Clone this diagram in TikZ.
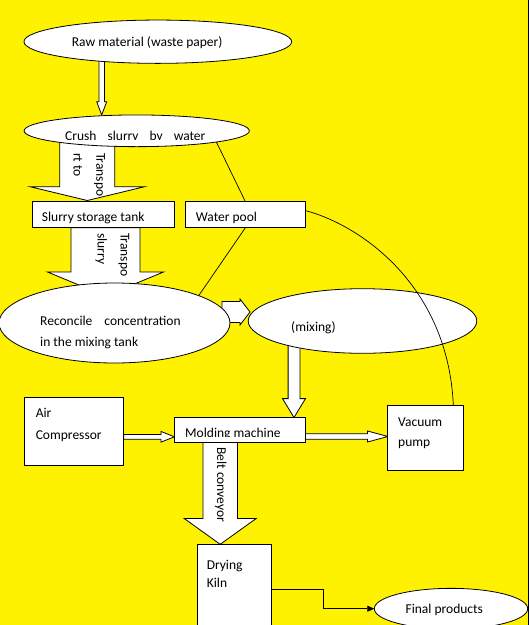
\documentclass[tikz,border=0pt]{standalone}
\usepackage{fontspec}
\setmainfont{Carlito}
\usetikzlibrary{shapes.geometric,arrows.meta}

\tikzset{
  unit/.style={draw, fill=white, line width=0.8pt, inner sep=0pt, outer sep=0pt},
  pot/.style={unit, ellipse},
  tank/.style={unit, rectangle},
  word/.style={anchor=base west, inner sep=0pt, font=\fontsize{13.5}{20}\selectfont},
  feed/.style={draw, fill=white, line width=0.8pt},
  pipe/.style={line width=0.7pt},
}

% hollow arrow down: x, top, head, tip, half shaft, half head
\newcommand{\feeddown}[6]{%
  \filldraw[feed] (#1-#5,#2) -- (#1+#5,#2) -- (#1+#5,#3) -- (#1+#6,#3)
    -- (#1,#4) -- (#1-#6,#3) -- (#1-#5,#3) -- cycle;}
% hollow arrow right: y, left, head, tip, half shaft, half head
\newcommand{\feedright}[6]{%
  \filldraw[feed] (#2,#1-#5) -- (#3,#1-#5) -- (#3,#1-#6) -- (#4,#1)
    -- (#3,#1+#6) -- (#3,#1+#5) -- (#2,#1+#5) -- cycle;}

\begin{document}
\begin{tikzpicture}[x=1pt,y=-1pt]
   \useasboundingbox (0,0) rectangle (530,625);
   \fill[white] (0,0) rectangle (530,625);
   \fill[yellow] (0,0) rectangle (528,625);
   \draw[line width=0.8pt] (528,0) -- (528,625);

   % block arrows
   \feeddown{101.7}{60}{101.7}{115}{2.7}{5}
   \feeddown{87.3}{135}{186.7}{200.5}{27.5}{57.3}
   \feeddown{105.5}{227.7}{272}{296}{34.5}{58}
   \feedright{312}{222}{240}{250}{10.5}{13}
   \feeddown{294}{340}{398.6}{417.5}{5.9}{11.5}
   \feedright{436.8}{123.6}{160.9}{174.4}{2.4}{5.4}
   \feedright{436.5}{305}{367.5}{388}{2.8}{5.5}
   \feeddown{220.2}{442}{518.5}{544.3}{17.3}{36}

   % vessels and machines
   \node[pot, minimum width=267.7pt, minimum height=43.3pt] (raw) at (157.8,41.7) {};
   \node[pot, minimum width=225.3pt, minimum height=31.7pt] (crush) at (136.7,130.8) {};
   \node[tank, minimum width=142pt, minimum height=26.7pt] (store) at (103.3,214.4) {};
   \node[tank, minimum width=120.7pt, minimum height=26pt] (pool) at (245.4,214.7) {};
   \node[pot, minimum width=231pt, minimum height=80pt] (tune) at (114.5,323) {};
   \node[pot, minimum width=228.6pt, minimum height=64.6pt] (mix) at (362.5,321) {};
   \node[tank, minimum width=99.2pt, minimum height=67.8pt] (air) at (74,431.5) {};
   \node[tank, minimum width=130.6pt, minimum height=25pt] (mould) at (239.7,429.8) {};
   \node[tank, minimum width=75.5pt, minimum height=65.4pt] (vac) at (425.6,438.1) {};
   \node[tank, minimum width=73.9pt, minimum height=100pt] (kiln) at (234,594.3) {};
   \node[pot, minimum width=153.4pt, minimum height=40.7pt] (final) at (451,608.7) {};

   % pipes
   \draw[pipe] (crush.-8) -- (pool.north);
   \draw[pipe] (pool.south) -- (tune.18);
   \draw[pipe] ([yshift=4pt]pool.east) .. controls (360,225) and (448,285) .. ([xshift=-10pt]vac.north east);
   \draw[pipe,-{Triangle[length=7pt,width=6pt]}] ([yshift=5.3pt]kiln.east) -- ++(52.5,0) |- (final.west);

   % texts
   \node[word] (t-raw) at (71.7,46.7) {Raw material (waste paper)};
   \begin{scope}
     \clip (0,100) rectangle (300,139.3);
     \node[word] (t-crush) at (65,140) {Crush\hspace{11pt}slurry\hspace{11pt}by\hspace{11pt}water};
   \end{scope}
   \node[word, rotate=-90] (t-tr1) at (96.3,153) {Transpo};
   \node[word, rotate=-90] (t-tr2) at (73.5,153) {rt to};
   \node[word] (t-store) at (41.7,221.7) {Slurry storage tank};
   \node[word] (t-pool) at (195.7,221.7) {Water pool};
   \node[word, rotate=-90] (t-tr3) at (120.5,233) {Transpo};
   \node[word, rotate=-90] (t-tr4) at (97.5,233) {slurry};
   \node[word] (t-tune1) at (40,325) {Reconcile\hspace{12pt}concentration};
   \node[word] (t-tune2) at (40,346.5) {in the mixing tank};
   \node[word] (t-mix) at (291,331.7) {(mixing)};
   \node[word] (t-air1) at (35.6,417.3) {Air};
   \node[word] (t-air2) at (35.6,439) {Compressor};
   \begin{scope}
     \clip (170,420) rectangle (305,436.5);
     \node[word] (t-mould) at (185,437.5) {Molding machine};
   \end{scope}
   \node[word] (t-vac1) at (398,426.4) {Vacuum};
   \node[word] (t-vac2) at (398,446) {pump};
   \node[word, rotate=-90] (t-belt) at (217,447.3) {Belt conveyor};
   \node[word] (t-kiln1) at (206.6,569) {Drying};
   \node[word] (t-kiln2) at (206.6,587.3) {Kiln};
   \node[word] (t-final) at (405.4,613.7) {Final products};
\end{tikzpicture}
\end{document}
